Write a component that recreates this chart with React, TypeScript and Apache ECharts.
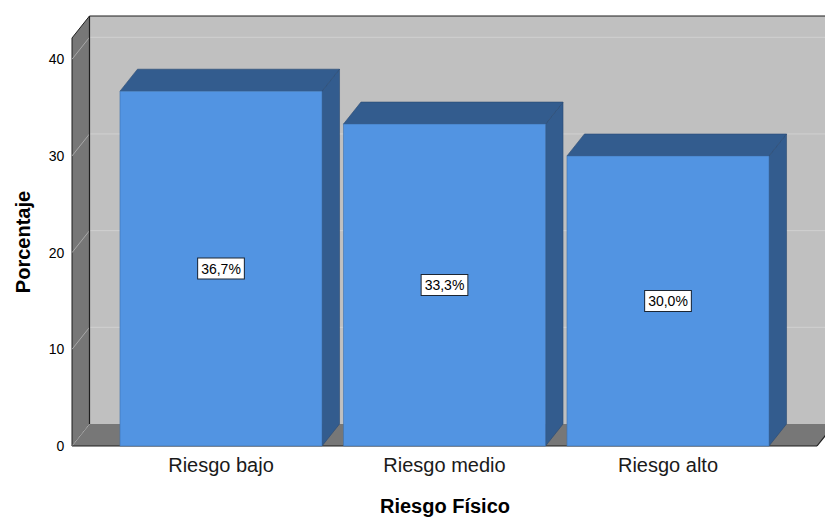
import React, { useEffect, useRef } from "react";
import * as echarts from "echarts";

// Data
const categories = ["Riesgo bajo", "Riesgo medio", "Riesgo alto"];
const percentages = [36.7, 33.3, 30.0];
const yTicks = [0, 10, 20, 30, 40];
const yMax = 42.2;

const FONT = "'Liberation Sans', Arial, Helvetica, sans-serif";

// Depth offset of the pseudo-3D look
const DX = 17.5;
const DY = -22;
// How far the front plane reaches beyond the category band on each side
const SIDE_EXT = 37.25;

const WALL_BACK = "#c0c0c0";
const WALL_SIDE = "#777777";
const EDGE = "#1f1f1f";
const BAR_FRONT = "#5294e2";
const BAR_DARK = "#335c8e";

function formatPct(v: number): string {
  return v.toFixed(1).replace(".", ",") + "%";
}

export default function App() {
  const ref = useRef<HTMLDivElement>(null);

  useEffect(() => {
    if (!ref.current) return;
    const chart = echarts.init(ref.current, undefined, { renderer: "svg" });

    const frameRender = (params: any, api: any) => {
      const cs = params.coordSys;
      const y0 = api.coord([0, 0])[1];
      const top = cs.y;
      const FL = cs.x - SIDE_EXT;
      const FR = cs.x + cs.width + SIDE_EXT;
      const children: any[] = [];

      // back wall
      children.push({
        type: "rect",
        shape: { x: FL + DX, y: top + DY, width: FR - FL, height: y0 - top },
        style: { fill: WALL_BACK },
      });
      // gridlines on back wall
      yTicks.forEach((v) => {
        const yv = api.coord([0, v])[1];
        if (v > 0) {
          children.push({
            type: "line",
            shape: { x1: FL + DX, y1: yv + DY, x2: FR + DX, y2: yv + DY },
            style: { stroke: "#d0d0d0", lineWidth: 1 },
          });
        }
      });
      // left wall
      children.push({
        type: "polygon",
        shape: {
          points: [
            [FL, y0],
            [FL + DX, y0 + DY],
            [FL + DX, top + DY],
            [FL, top],
          ],
        },
        style: { fill: WALL_SIDE, stroke: EDGE, lineWidth: 1 },
      });
      // floor
      children.push({
        type: "polygon",
        shape: {
          points: [
            [FL, y0],
            [FR, y0],
            [FR + DX, y0 + DY],
            [FL + DX, y0 + DY],
          ],
        },
        style: { fill: WALL_SIDE },
      });
      // tick diagonals on the left wall
      yTicks.forEach((v) => {
        const yv = api.coord([0, v])[1];
        children.push({
          type: "line",
          shape: { x1: FL, y1: yv, x2: FL + DX, y2: yv + DY },
          style: { stroke: "#a8a8a8", lineWidth: 1 },
        });
      });
      // dark edges
      const edges = [
        [FL, y0, FR, y0],
        [FR, y0, FR + DX, y0 + DY],
        [FL + DX, top + DY, FR + DX, top + DY],
        [FL + DX, top + DY, FL + DX, y0 + DY],
      ];
      edges.forEach((e) => {
        children.push({
          type: "line",
          shape: { x1: e[0], y1: e[1], x2: e[2], y2: e[3] },
          style: { stroke: EDGE, lineWidth: 1.2 },
        });
      });
      return { type: "group", children };
    };

    const barRender = (params: any, api: any) => {
      const idx = api.value(0);
      const val = api.value(1);
      const [cx, yTop] = api.coord([idx, val]);
      const y0 = api.coord([idx, 0])[1];
      const band = api.size([1, 0])[0];
      const bw = band * 0.904;
      const L = cx - bw / 2;
      const R = cx + bw / 2;
      return {
        type: "group",
        children: [
          {
            type: "polygon",
            shape: {
              points: [
                [R, yTop],
                [R + DX, yTop + DY],
                [R + DX, y0 + DY],
                [R, y0],
              ],
            },
            style: { fill: BAR_DARK, stroke: "#2a4a72", lineWidth: 0.6 },
          },
          {
            type: "polygon",
            shape: {
              points: [
                [L, yTop],
                [R, yTop],
                [R + DX, yTop + DY],
                [L + DX, yTop + DY],
              ],
            },
            style: { fill: BAR_DARK, stroke: "#2a4a72", lineWidth: 0.6 },
          },
          {
            type: "rect",
            shape: { x: L, y: yTop, width: bw, height: y0 - yTop },
            style: { fill: BAR_FRONT, stroke: "#3f70aa", lineWidth: 0.6 },
          },
          {
            type: "text",
            x: cx,
            y: (yTop + y0) / 2,
            style: {
              text: formatPct(val),
              fontFamily: FONT,
              fontSize: 14,
              fill: "#000",
              align: "center",
              verticalAlign: "middle",
              backgroundColor: "#ffffff",
              borderColor: "#1c2633",
              borderWidth: 1,
              padding: [3, 3, 3, 3],
            },
          },
        ],
      };
    };

    chart.setOption({
      animation: false,
      grid: { left: 109.25, right: 45.25, top: 38, bottom: 72 },
      xAxis: {
        type: "category",
        data: categories,
        axisLine: { show: false },
        axisTick: { show: false },
        splitLine: { show: false },
        axisLabel: {
          fontFamily: FONT,
          fontSize: 20,
          color: "#1a1a1a",
          margin: 9,
        },
      },
      yAxis: {
        type: "value",
        min: 0,
        max: yMax,
        interval: 10,
        axisLine: { show: false },
        axisTick: { show: false },
        splitLine: { show: false },
        axisLabel: {
          fontFamily: FONT,
          fontSize: 14,
          color: "#000",
          margin: 45,
          formatter: (v: number) => (yTicks.includes(v) ? String(v) : ""),
        },
      },
      graphic: [
        {
          type: "text",
          x: 23,
          y: 242,
          rotation: Math.PI / 2,
          style: {
            text: "Porcentaje",
            fontFamily: FONT,
            fontWeight: "bold",
            fontSize: 20,
            fill: "#000",
            align: "center",
            verticalAlign: "middle",
          },
        },
        {
          type: "text",
          x: 445,
          y: 506,
          style: {
            text: "Riesgo Físico",
            fontFamily: FONT,
            fontWeight: "bold",
            fontSize: 20,
            fill: "#000",
            align: "center",
            verticalAlign: "middle",
          },
        },
      ],
      series: [
        {
          type: "custom",
          renderItem: frameRender,
          data: [[0, 0]],
          clip: false,
          silent: true,
          z: 1,
        },
        {
          type: "custom",
          renderItem: barRender,
          data: percentages.map((v, i) => [i, v]),
          clip: false,
          z: 2,
        },
      ],
    });

    return () => chart.dispose();
  }, []);

  return (
    <div
      ref={ref}
      style={{ position: "fixed", left: 0, top: 0, width: 825, height: 518, background: "#fff" }}
    />
  );
}
